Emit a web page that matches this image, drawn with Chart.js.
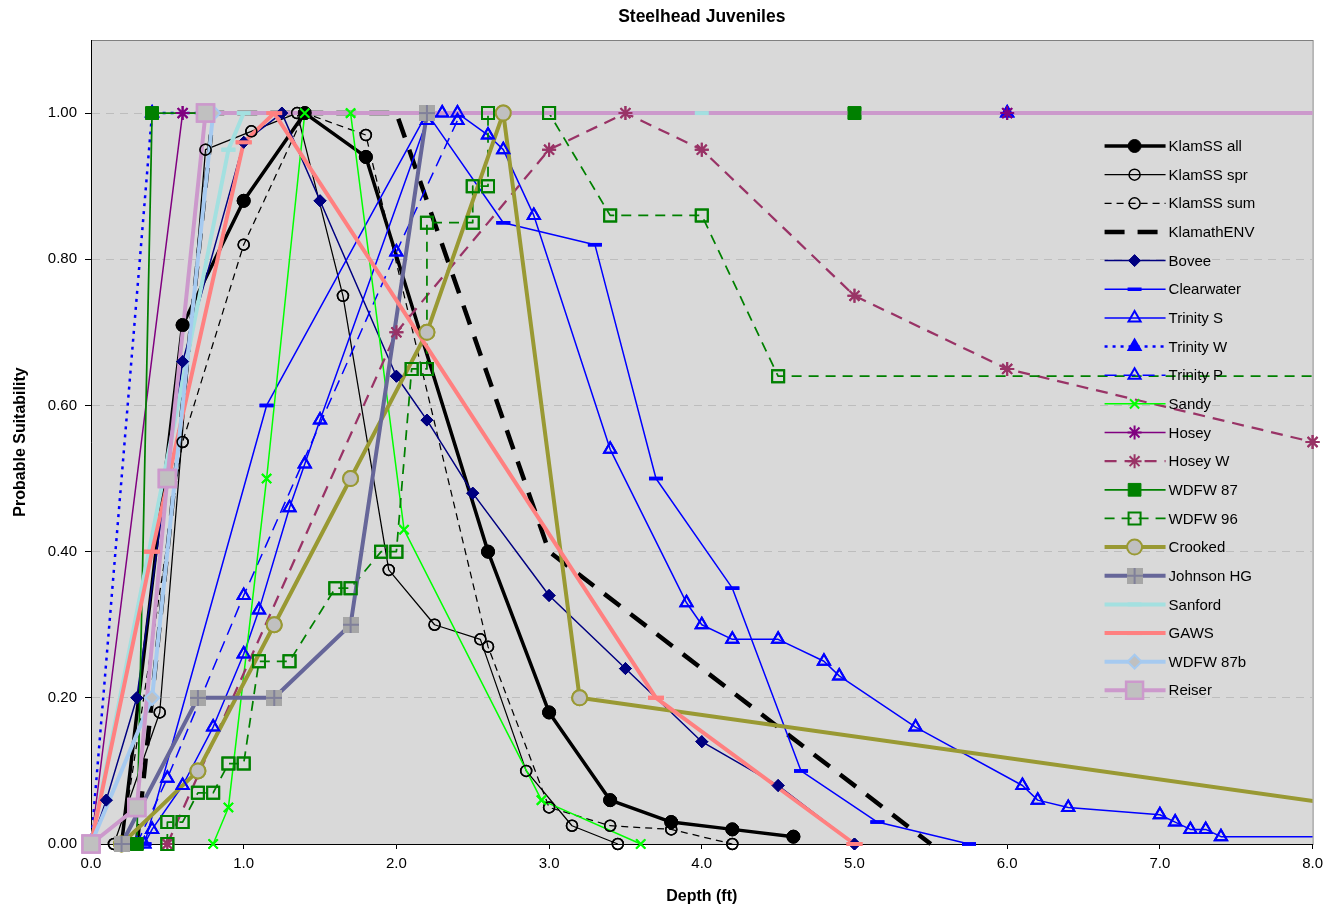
<!DOCTYPE html>
<html>
<head>
<meta charset="utf-8">
<title>Steelhead Juveniles</title>
<script src="https://cdn.jsdelivr.net/npm/chart.js@4.4.0/dist/chart.umd.min.js"></script>
<style>
  body { margin: 0; background: #fff; }
  #wrap { width: 1329px; height: 909px; }
</style>
</head>
<body>
<div id="wrap"><canvas id="chart" width="1329" height="909"></canvas></div>
<script>
// depth (ft), probable suitability
const klamssAll = [[0.2,0],[0.6,0.71],[1.0,0.88],[1.4,1.0],[1.8,0.94],[2.6,0.40],[3.0,0.18],[3.4,0.06],[3.8,0.03],[4.2,0.02],[4.6,0.01]];
const klamssSpr = [[0.15,0],[0.45,0.18],[0.75,0.95],[1.05,0.975],[1.35,1.0],[1.65,0.75],[1.95,0.375],[2.25,0.30],[2.55,0.28],[2.85,0.10],[3.15,0.025],[3.45,0]];
const klamssSum = [[0.2,0],[0.6,0.55],[1.0,0.82],[1.4,1.0],[1.8,0.97],[2.6,0.27],[3.0,0.05],[3.4,0.025],[3.8,0.02],[4.2,0]];
const klamathEnv = [[0.3,0],[0.8,1.0],[2.0,1.0],[3.0,0.40],[5.5,0]];
const bovee = [[0,0],[0.1,0.06],[0.3,0.20],[0.6,0.66],[1.0,0.96],[1.25,1.0],[1.5,0.88],[2.0,0.64],[2.2,0.58],[2.5,0.48],[3.0,0.34],[3.5,0.24],[4.0,0.14],[4.5,0.08],[5.0,0]];
const clearwater = [[0.35,0],[1.15,0.60],[2.2,1.0],[2.7,0.85],[3.3,0.82],[3.7,0.50],[4.2,0.35],[4.65,0.10],[5.15,0.03],[5.75,0]];
const trinityS = [[0.35,0],[0.4,0.02],[0.6,0.08],[0.8,0.16],[1.0,0.26],[1.1,0.32],[1.3,0.46],[1.4,0.52],[1.5,0.58],[2.2,0.99],[2.3,1.0],[2.4,1.0],[2.6,0.97],[2.7,0.95],[2.9,0.86],[3.4,0.54],[3.9,0.33],[4.0,0.30],[4.2,0.28],[4.5,0.28],[4.8,0.25],[4.9,0.23],[5.4,0.16],[6.1,0.08],[6.2,0.06],[6.4,0.05],[7.0,0.04],[7.1,0.03],[7.2,0.02],[7.3,0.02],[7.4,0.01],[10,0.01]];
const trinityW = [[0,0],[0.4,1.0],[6.0,1.0]];
const trinityP = [[0.3,0],[0.5,0.09],[1.0,0.34],[2.0,0.81],[2.4,0.99]];
const sandy = [[0.8,0],[0.9,0.05],[1.15,0.50],[1.4,1.0],[1.7,1.0],[2.05,0.43],[2.95,0.06],[3.6,0]];
const hosey = [[0,0],[0.6,1.0],[6.0,1.0]];
const hoseyW = [[0.5,0],[2.0,0.70],[3.0,0.95],[3.5,1.0],[4.0,0.95],[5.0,0.75],[6.0,0.65],[8.0,0.55]];
const wdfw87 = [[0.3,0],[0.4,1.0],[5.0,1.0]];
const wdfw96 = [[0.5,0],[0.5,0.03],[0.6,0.03],[0.7,0.07],[0.8,0.07],[0.9,0.11],[1.0,0.11],[1.1,0.25],[1.3,0.25],[1.6,0.35],[1.7,0.35],[1.9,0.40],[2.0,0.40],[2.1,0.65],[2.2,0.65],[2.2,0.85],[2.5,0.85],[2.5,0.90],[2.6,0.90],[2.6,1.0],[3.0,1.0],[3.4,0.86],[4.0,0.86],[4.5,0.64],[10,0.64]];
const crooked = [[0.2,0],[0.7,0.10],[1.2,0.30],[1.7,0.50],[2.2,0.70],[2.7,1.0],[3.2,0.20],[10,0]];
const johnsonHG = [[0.2,0],[0.7,0.20],[1.2,0.20],[1.7,0.30],[2.2,1.0]];
const sanford = [[0,0],[0.9,0.95],[1.0,1.0],[4.0,1.0]];
const gaws = [[0,0],[0.4,0.40],[1.0,0.96],[1.2,1.0],[3.7,0.20],[5.0,0]];
const wdfw87b = [[0,0],[0.4,0.20],[0.8,1.0]];
const reiser = [[0,0],[0.3,0.05],[0.5,0.50],[0.75,1.0],[10,1.0]];

const xTicks = [0, 1, 2, 3, 4, 5, 6, 7, 8];
const yTicks = [0, 0.2, 0.4, 0.6, 0.8, 1.0];

Chart.defaults.font.family = '"Liberation Sans", Arial, sans-serif';
Chart.defaults.color = '#000';

// grey square with a cross, like the Excel marker
function crossSquare() {
    const c = document.createElement('canvas');
    c.width = 16; c.height = 16;
    const g = c.getContext('2d');
    g.fillStyle = '#A6A6A6';
    g.fillRect(0, 0, 16, 16);
    g.strokeStyle = '#80809A';
    g.lineWidth = 2;
    g.beginPath();
    g.moveTo(8, 0); g.lineTo(8, 16);
    g.moveTo(0, 8); g.lineTo(16, 8);
    g.stroke();
    return c;
}

const none = 'rgba(0,0,0,0)';
const clipIn = {left: 14, top: 14, right: 12, bottom: 14};
const clipEdge = {left: 14, top: 14, right: 0, bottom: 14};

function series(label, pts, style) {
    return Object.assign({
        label: label,
        data: pts.map(p => ({x: p[0], y: p[1]})),
        showLine: true,
        fill: false,
        tension: 0,
        borderJoinStyle: 'round',
        clip: clipIn
    }, style);
}

const datasets = [
    series('KlamSS all', klamssAll, {borderColor: '#000', borderWidth: 3.5, pointStyle: 'circle', pointRadius: 6.5, pointBackgroundColor: '#000', pointBorderColor: '#000', pointBorderWidth: 1}),
    series('KlamSS spr', klamssSpr, {borderColor: '#000', borderWidth: 1.25, pointStyle: 'circle', pointRadius: 5.5, pointBackgroundColor: none, pointBorderColor: '#000', pointBorderWidth: 1.5}),
    series('KlamSS sum', klamssSum, {borderColor: '#000', borderWidth: 1.25, borderDash: [7, 5], pointStyle: 'circle', pointRadius: 5.5, pointBackgroundColor: none, pointBorderColor: '#000', pointBorderWidth: 1.5}),
    series('KlamathENV', klamathEnv, {borderColor: '#000', borderWidth: 4.5, borderDash: [20, 13], pointRadius: 0}),
    series('Bovee', bovee, {borderColor: '#000080', borderWidth: 1.5, pointStyle: 'rectRot', pointRadius: 6, pointBackgroundColor: '#000080', pointBorderColor: '#000080', pointBorderWidth: 1}),
    series('Clearwater', clearwater, {borderColor: '#0000FF', borderWidth: 1.5, pointStyle: 'line', pointRadius: 7, pointBorderColor: '#0000FF', pointBorderWidth: 3.5}),
    series('Trinity S', trinityS, {borderColor: '#0000FF', borderWidth: 1.5, pointStyle: 'triangle', pointRadius: 7, pointBackgroundColor: none, pointBorderColor: '#0000FF', pointBorderWidth: 2, clip: clipEdge}),
    series('Trinity W', trinityW, {borderColor: '#0000FF', borderWidth: 2.5, borderDash: [3, 5], pointStyle: 'triangle', pointRadius: 7, pointBackgroundColor: '#0000FF', pointBorderColor: '#0000FF', pointBorderWidth: 2}),
    series('Trinity P', trinityP, {borderColor: '#0000FF', borderWidth: 1.5, borderDash: [12, 7], pointStyle: 'triangle', pointRadius: 7, pointBackgroundColor: none, pointBorderColor: '#0000FF', pointBorderWidth: 2}),
    series('Sandy', sandy, {borderColor: '#00FF00', borderWidth: 1.5, pointStyle: 'crossRot', pointRadius: 6.5, pointBorderColor: '#00FF00', pointBorderWidth: 2}),
    series('Hosey', hosey, {borderColor: '#800080', borderWidth: 1.5, pointStyle: 'star', pointRadius: 7, pointBorderColor: '#800080', pointBorderWidth: 2}),
    series('Hosey W', hoseyW, {borderColor: '#993366', borderWidth: 2.25, borderDash: [12, 8], pointStyle: 'star', pointRadius: 7, pointBorderColor: '#993366', pointBorderWidth: 2}),
    series('WDFW 87', wdfw87, {borderColor: '#008000', borderWidth: 1.75, pointStyle: 'rect', pointRadius: 9, pointBackgroundColor: '#008000', pointBorderColor: '#008000', pointBorderWidth: 1}),
    series('WDFW 96', wdfw96, {borderColor: '#008000', borderWidth: 1.75, borderDash: [10, 7], pointStyle: 'rect', pointRadius: 8.5, pointBackgroundColor: none, pointBorderColor: '#008000', pointBorderWidth: 2, clip: clipEdge}),
    series('Crooked', crooked, {borderColor: '#999933', borderWidth: 4, pointStyle: 'circle', pointRadius: 7.5, pointBackgroundColor: '#C0C0C0', pointBorderColor: '#999933', pointBorderWidth: 2, clip: clipEdge}),
    series('Johnson HG', johnsonHG, {borderColor: '#666699', borderWidth: 4, pointStyle: crossSquare(), pointRadius: 8}),
    series('Sanford', sanford, {borderColor: '#A3E0E0', borderWidth: 4, pointStyle: 'line', pointRadius: 7, pointBorderColor: '#A3E0E0', pointBorderWidth: 4}),
    series('GAWS', gaws, {borderColor: '#FF8080', borderWidth: 4, pointStyle: 'line', pointRadius: 8, pointBorderColor: '#FF8080', pointBorderWidth: 4}),
    series('WDFW 87b', wdfw87b, {borderColor: '#A6CAF0', borderWidth: 4, pointStyle: 'rectRot', pointRadius: 7, pointBackgroundColor: '#C0C0C0', pointBorderColor: '#A6CAF0', pointBorderWidth: 2}),
    series('Reiser', reiser, {borderColor: '#CC99CC', borderWidth: 4, pointStyle: 'rect', pointRadius: 12, pointBackgroundColor: '#C0C0C0', pointBorderColor: '#CC99CC', pointBorderWidth: 2.5, clip: clipEdge})
];
// later series on top, as in the original
datasets.forEach((ds, i) => { ds.order = datasets.length - i; });

const plotBackground = {
    id: 'plotBackground',
    beforeDraw(chart) {
        const {ctx, chartArea: a} = chart;
        ctx.save();
        ctx.fillStyle = '#fff';
        ctx.fillRect(0, 0, chart.width, chart.height);
        ctx.fillStyle = '#D9D9D9';
        ctx.fillRect(a.left, a.top, a.right - a.left, a.bottom - a.top);
        ctx.strokeStyle = '#808080';
        ctx.lineWidth = 1;
        ctx.strokeRect(a.left + 0.5, a.top + 0.5, a.right - a.left, a.bottom - a.top);
        ctx.restore();
    }
};

// Excel paints the markers above every line, so draw them again on top
const markersOnTop = {
    id: 'markersOnTop',
    afterDatasetsDraw(chart) {
        const a = chart.chartArea;
        const area = {left: a.left - 14, top: a.top - 14, right: a.right + 12, bottom: a.bottom + 14};
        const metas = chart.getSortedVisibleDatasetMetas();
        for (let i = metas.length - 1; i >= 0; i--) {
            metas[i].data.forEach(pt => pt.draw(chart.ctx, area));
        }
    }
};

// legend sits inside the plot, with line samples
const insideLegend = {
    id: 'insideLegend',
    afterDraw(chart) {
        const {ctx, chartArea: a} = chart;
        const x0 = a.right - 208, x1 = a.right - 147, xm = a.right - 178, xt = a.right - 144;
        ctx.save();
        chart.data.datasets.forEach((ds, i) => {
            const y = a.top + 106 + i * 28.65;
            ctx.strokeStyle = ds.borderColor;
            ctx.lineWidth = ds.borderWidth;
            ctx.setLineDash(ds.borderDash || []);
            ctx.beginPath();
            ctx.moveTo(x0, y);
            ctx.lineTo(x1, y);
            ctx.stroke();
            ctx.setLineDash([]);
            if (ds.pointRadius > 0 && Chart.helpers && Chart.helpers.drawPoint) {
                ctx.fillStyle = ds.pointBackgroundColor || ds.borderColor;
                ctx.strokeStyle = ds.pointBorderColor || ds.borderColor;
                ctx.lineWidth = ds.pointBorderWidth || 1;
                Chart.helpers.drawPoint(ctx, {
                    pointStyle: ds.pointStyle,
                    radius: ds.pointRadius,
                    borderWidth: ds.pointBorderWidth || 1,
                    rotation: 0
                }, xm, y);
            }
            ctx.fillStyle = '#000';
            ctx.font = '15px "Liberation Sans", Arial, sans-serif';
            ctx.textAlign = 'left';
            ctx.textBaseline = 'middle';
            ctx.fillText(ds.label, xt, y + 1);
        });
        ctx.restore();
    }
};

new Chart(document.getElementById('chart').getContext('2d'), {
    type: 'scatter',
    data: { datasets: datasets },
    options: {
        responsive: false,
        animation: false,
        events: [],
        layout: { padding: { left: 0, right: 12, top: 0, bottom: 0 } },
        plugins: {
            legend: { display: false },
            tooltip: { enabled: false },
            title: {
                display: true,
                fullSize: false,
                text: 'Steelhead Juveniles',
                color: '#000',
                font: { size: 17.5, weight: 'bold' },
                padding: { top: 7, bottom: 12 }
            }
        },
        scales: {
            x: {
                type: 'linear',
                min: xTicks[0],
                max: xTicks[xTicks.length - 1],
                afterFit: s => { s.height = 65; },
                afterBuildTicks: s => { s.ticks = xTicks.map(v => ({value: v})); },
                ticks: {
                    stepSize: 1,
                    padding: 6,
                    font: { size: 15 },
                    color: '#000',
                    maxRotation: 0,
                    callback: v => Number(v).toFixed(1)
                },
                grid: { drawOnChartArea: false, tickLength: 5, tickColor: '#000' },
                border: { color: '#000', width: 1 },
                title: {
                    display: true,
                    text: 'Depth (ft)',
                    font: { size: 16, weight: 'bold' },
                    color: '#000',
                    padding: { top: 0, bottom: 3 }
                }
            },
            y: {
                type: 'linear',
                min: 0,
                max: 1.1,
                afterFit: s => { s.width = 91; },
                afterBuildTicks: s => { s.ticks = yTicks.map(v => ({value: v})); },
                ticks: {
                    stepSize: 0.2,
                    includeBounds: false,
                    padding: 8,
                    font: { size: 15 },
                    color: '#000',
                    callback: v => Number(v).toFixed(2)
                },
                grid: { color: '#BDBDBD', tickColor: '#000', tickLength: 6, tickBorderDash: [] },
                border: { color: '#000', width: 1, dash: [8, 6] },
                title: {
                    display: true,
                    text: 'Probable Suitability',
                    font: { size: 16, weight: 'bold' },
                    color: '#000',
                    padding: { top: 11, bottom: 0 }
                }
            }
        }
    },
    plugins: [plotBackground, markersOnTop, insideLegend]
});
</script>
</body>
</html>
